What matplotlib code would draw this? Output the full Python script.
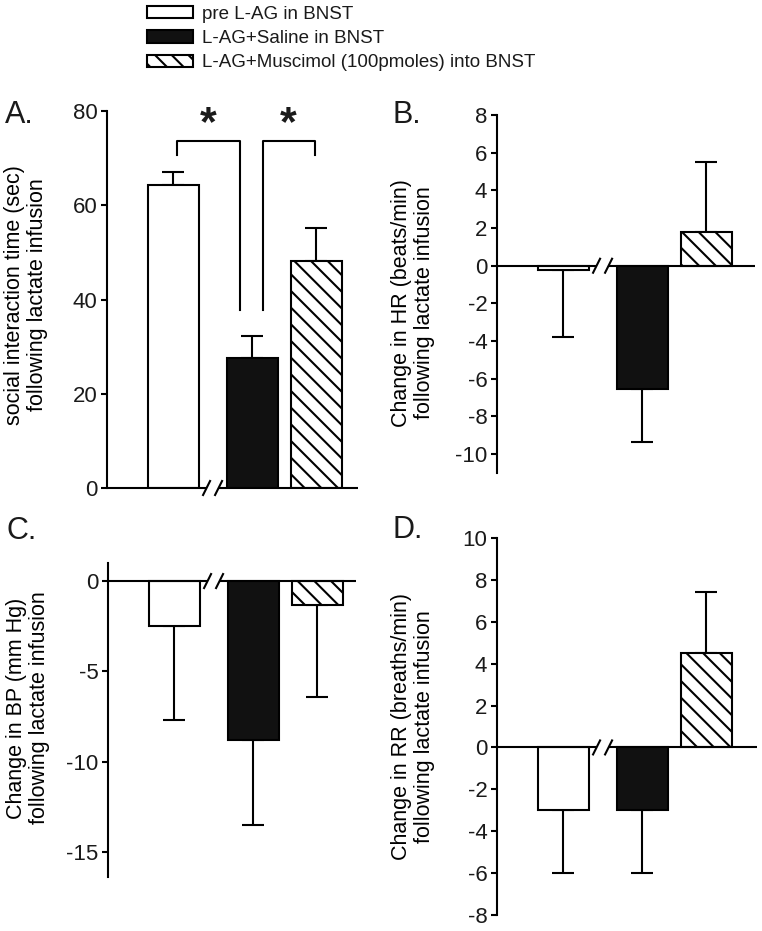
import matplotlib
matplotlib.use("Agg")
import matplotlib.pyplot as plt
from matplotlib.patches import Patch

plt.rcParams['font.family'] = ['Liberation Sans', 'DejaVu Sans']
plt.rcParams['hatch.linewidth'] = 1.5
plt.rcParams['text.color'] = '#1a1a1a'
plt.rcParams['axes.unicode_minus'] = False

groups = ["pre L-AG in BNST", "L-AG+Saline in BNST",
          "L-AG+Muscimol (100pmoles) into BNST"]
faces = ["white", "#111111", "white"]
hatches = ["", "", "\\\\"]

# means and SEM (one-sided, drawn away from zero)
social = [64.3, 27.6, 48.2]
social_err = [2.8, 4.7, 7.0]
hr = [-0.25, -6.55, 1.8]
hr_err = [3.55, 2.8, 3.7]
bp = [-2.5, -8.8, -1.3]
bp_err = [5.2, 4.7, 5.1]
rr = [-3.0, -3.0, 4.5]
rr_err = [3.0, 3.0, 2.9]

ylabels = ["social interaction time (sec)\nfollowing lactate infusion",
           "Change in HR (beats/min)\nfollowing lactate infusion",
           "Change in BP (mm Hg)\nfollowing lactate infusion",
           "Change in RR (breaths/min)\nfollowing lactate infusion"]

W, H = 762, 931
BAR_PX = 51.0
xpos = [1.3, 2.85, 4.1]
brk = 2.07


def rect(l, t, r, b):
    return [l / W, 1 - b / H, (r - l) / W, (b - t) / H]


def panel(box, vals, errs, ylim, ticks, label, label_y):
    l, t, r, b = box
    ax = fig.add_axes(rect(l, t, r, b))
    xmax = (r - l) / BAR_PX
    ax.set_xlim(0, xmax)
    ax.set_ylim(*ylim)
    for x, v, f, h in zip(xpos, vals, faces, hatches):
        ax.bar(x, v, width=1.0, color=f, edgecolor='black', linewidth=1.5,
               hatch=h, zorder=2)
    lower = [e if v < 0 else 0 for v, e in zip(vals, errs)]
    upper = [e if v >= 0 else 0 for v, e in zip(vals, errs)]
    ax.errorbar(xpos, vals, yerr=[lower, upper], fmt='none', ecolor='black',
                elinewidth=1.5, capsize=8, capthick=1.5, zorder=1)
    # x axis at zero with a break between first and second bar
    upp = (b - t) / (ylim[1] - ylim[0])
    d = 6 / BAR_PX
    ax.plot([0, brk - d], [0, 0], color='black', lw=1.5, clip_on=False,
            solid_capstyle='butt')
    ax.plot([brk + d, xmax], [0, 0], color='black', lw=1.5, clip_on=False,
            solid_capstyle='butt')
    sx = 3.5 / BAR_PX
    sy = 7 / upp
    for c in (brk - d, brk + d):
        ax.plot([c - sx, c + sx], [-sy, sy], color='black', lw=1.5,
                clip_on=False)
    for s in ('top', 'right', 'bottom'):
        ax.spines[s].set_visible(False)
    ax.spines['left'].set_linewidth(1.5)
    ax.set_xticks([])
    ax.set_yticks(ticks)
    ax.tick_params(axis='y', direction='out', length=4, width=1.5,
                   labelsize=16, pad=3, labelcolor='#1a1a1a')
    ax.set_ylabel(label, fontsize=15.5, linespacing=1.1)
    ax.yaxis.set_label_coords(-(l - label_y[0]) / (r - l), label_y[1])
    return ax


fig = plt.figure(figsize=(W / 100, H / 100), dpi=100)

axA = panel((107, 111, 358, 488), social, social_err, (0, 80),
            range(0, 81, 20), ylabels[0], (48, 0.512))
axB = panel((497, 115, 755, 473), hr, hr_err, (-11, 8),
            range(-10, 9, 2), ylabels[1], (435, 0.475))
axC = panel((108, 563, 356, 877), bp, bp_err, (-16.4, 1),
            [0, -5, -10, -15], ylabels[2], (50, 0.538))
axD = panel((497, 538, 757, 915), rr, rr_err, (-8, 10),
            range(-8, 11, 2), ylabels[3], (435, 0.5))

# significance brackets in panel A
axA.plot([1.37, 1.37, 2.61, 2.61], [70.7, 73.7, 73.7, 37.8], color='black',
         lw=1.5, clip_on=False)
axA.plot([3.06, 3.06, 4.08, 4.08], [37.8, 73.7, 73.7, 70.7], color='black',
         lw=1.5, clip_on=False)
for x in (1.98, 3.55):
    axA.text(x, 77.3, "*", fontsize=31, fontweight='bold', ha='center',
             va='center')

for letter, (x, y) in zip("ABCD", [(5, 123), (392, 123), (6, 539), (392, 538)]):
    fig.text(x / W, 1 - y / H, letter + ".", fontsize=22, va='baseline')

handles = [Patch(facecolor=f, edgecolor='black', linewidth=1.5, hatch=h)
           for f, h in zip(faces, hatches)]
fig.legend(handles, groups, loc='upper left',
           bbox_to_anchor=(147 / W, 1 - 6 / H), frameon=False, fontsize=13.5,
           handlelength=2.45, handleheight=0.62, handletextpad=0.5,
           labelspacing=0.38, borderpad=0, borderaxespad=0)

fig.savefig("out.png", dpi=100)
